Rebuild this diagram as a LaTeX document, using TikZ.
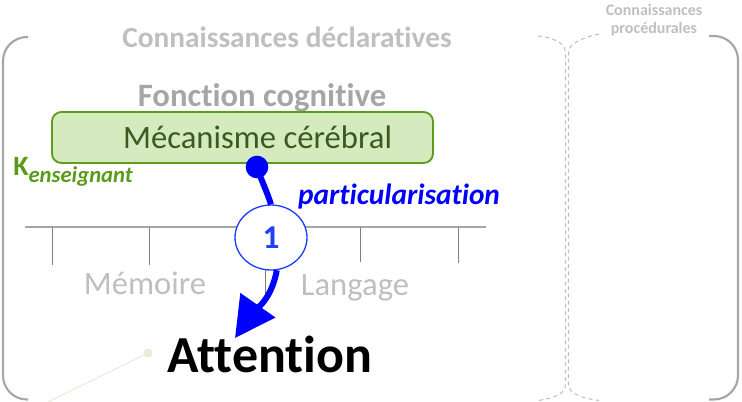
\documentclass[tikz,border=0pt]{standalone}
\usepackage{fontspec}
\setmainfont{Carlito}[Ligatures=NoCommon]
\usetikzlibrary{arrows.meta,shapes.geometric}
\definecolor{brk}{HTML}{A6A6A6}
\definecolor{lgray}{HTML}{BFBFBF}
\definecolor{mgray}{HTML}{A6A6A6}
\definecolor{tickc}{HTML}{7F7F7F}
\definecolor{boxfill}{HTML}{D6EAC0}
\definecolor{boxdraw}{HTML}{5F9C1E}
\definecolor{boxtext}{HTML}{3B5A1E}
\definecolor{kgreen}{HTML}{5B9B1A}
\definecolor{fgreen}{HTML}{E2EFD9}
\definecolor{myblue}{HTML}{0000FF}
\definecolor{cblue}{HTML}{1F3FFF}
\tikzset{
  fs/.style={font=\fontsize{#1}{#1}\selectfont},
  fsb/.style={font=\fontsize{#1}{#1}\selectfont\bfseries},
  fsbi/.style={font=\fontsize{#1}{#1}\selectfont\bfseries\itshape},
  bracket/.style={draw=brk, line width=1.6pt},
  dbracket/.style={draw=lgray, line width=0.8pt, dash pattern=on 3pt off 2.5pt},
  tickline/.style={draw=tickc, line width=0.7pt},
  bluearrow/.style={draw=myblue, line width=4.5pt},
}
\begin{document}
\begin{tikzpicture}[x=0.75pt,y=-0.75pt]
\useasboundingbox (0,0) rectangle (742,401);
% brackets
\coordinate (lt) at (28,37);
\coordinate (lb) at (28,399.5);
\coordinate (rt) at (709,36);
\coordinate (rb) at (709,399.5);
\draw[bracket,rounded corners=18pt] (lt) -- (3,37) -- (3,399.5) -- (lb);
\draw[bracket,rounded corners=18pt] (rt) -- (738,36) -- (738,399.5) -- (rb);
% middle dashed double bracket
\draw[dbracket] (538,36) .. controls (556,38) and (565,44) .. (565.5,52) -- (565.5,385) .. controls (565,393) and (556,398) .. (538,400.5);
\draw[dbracket] (599,34) .. controls (581,38) and (569,44) .. (568.5,52) -- (568.5,385) .. controls (569,393) and (581,398) .. (599,400.5);
% titles
\node[fsb=22, text=lgray] (cd) at (287,37) {Connaissances déclaratives};
\node[fsb=12, text=lgray, align=center] (cp) at (654,20) {Connaissances\\[2pt]procédurales};
\node[fsb=24.5, text=mgray] (fc) at (262,98) {Fonction cognitive};
% scale line
\coordinate (hl) at (25,227);
\coordinate (hr) at (486,227);
\draw[draw=brk, line width=1.1pt] (hl) -- (hr);
\coordinate (t1a) at (52,227); \coordinate (t1b) at (52,265);
\coordinate (t2a) at (149,227); \coordinate (t2b) at (149,265);
\coordinate (t3a) at (265,227); \coordinate (t3b) at (265,297);
\coordinate (t4a) at (360,227); \coordinate (t4b) at (360,262);
\coordinate (t5a) at (458,227); \coordinate (t5b) at (458,263);
\draw[tickline] (t1a) -- (t1b);
\draw[tickline] (t2a) -- (t2b);
\draw[tickline] (t3a) -- (t3b);
\draw[tickline] (t4a) -- (t4b);
\draw[tickline] (t5a) -- (t5b);
\node[fs=24.5, text=lgray] (mem) at (145,283) {Mémoire};
\node[fs=24.5, text=lgray] (lang) at (355,288) {Langage};
% green box
\node[draw=boxdraw, fill=boxfill, line width=1.4pt, rounded corners=7pt, minimum width=381*0.75pt, minimum height=51*0.75pt, inner sep=0pt] (box) at (242.5,137.5) {};
\node[fs=24.5, text=boxtext] (mec) at (257.5,137) {Mécanisme cérébral};
% K enseignant
\node[anchor=base west, inner sep=0pt, text=kgreen, fsb=21] (k) at (13,175) {K\raisebox{-5.3pt}{\fontsize{17}{17}\selectfont\itshape enseignant}};
% faint green dot
\node[circle, fill=fgreen, minimum size=7pt, inner sep=0pt] (gdot) at (148,353) {};
\coordinate (gend) at (48,402);
\draw[draw=fgreen, line width=0.8pt] (gdot) -- (gend);
% Attention
\node[anchor=base west, inner sep=0pt, fsb=39] (att) at (167,372) {Attention};
% particularisation
\node[fsbi=22, text=myblue] (part) at (399,197) {particularisation};
% blue arrow
\node[circle, fill=myblue, minimum size=17pt, inner sep=0pt] (src) at (257,167) {};
\node[ellipse, draw=cblue, fill=white, line width=1pt, minimum width=72*0.75pt, minimum height=65*0.75pt, inner sep=0pt] (c1) at (271,237.5) {};
\coordinate (tip) at (235,338);
\draw[bluearrow] (src.center) to[out=-72,in=108] (c1.north);
\draw[bluearrow, -{Triangle[length=30pt,width=31pt]}] (c1.-80) to[out=-100,in=55] (tip);
\node[text=cblue, fsb=25] (one) at (c1.center) {1};
\end{tikzpicture}
\end{document}
